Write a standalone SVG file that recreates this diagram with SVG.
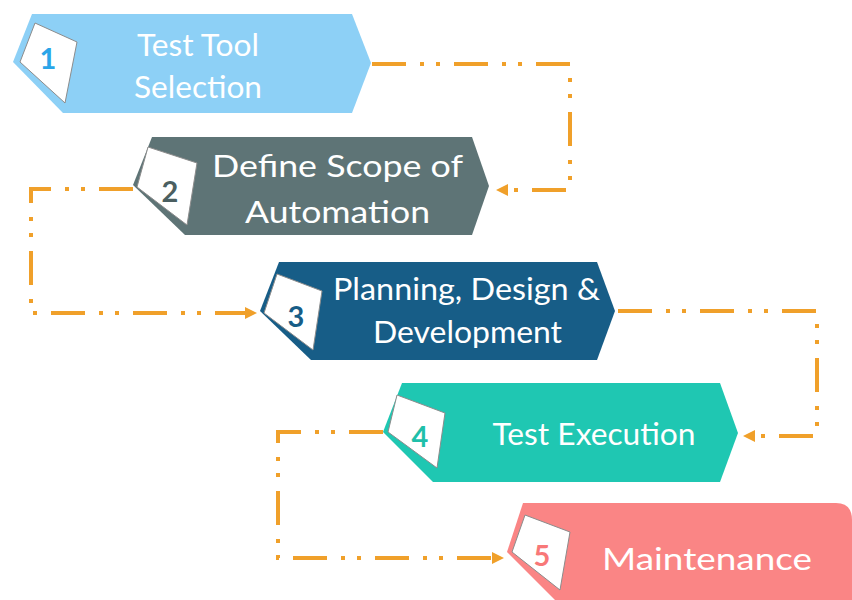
<svg xmlns="http://www.w3.org/2000/svg" width="852" height="600" viewBox="0 0 852 600">
<style>
  .lbl { font-family: Lato, "Open Sans", sans-serif; font-size: 31px; fill: #ffffff; text-anchor: middle; }
  .num { font-family: Lato, "Open Sans", sans-serif; font-size: 29px; font-weight: bold; text-anchor: middle; }
  .card { fill: #ffffff; stroke: #8c8c8c; stroke-width: 1; }
  .conn { fill: none; stroke: #f0a02a; stroke-width: 4; stroke-dasharray: 34 14 4 12 4 14; }
  .arrow { fill: #f0a02a; }
</style>
<rect width="852" height="600" fill="#ffffff"/>

<g id="connectors">
  <path class="conn" d="M372,64 H570 V190 H507"/>
  <polygon class="arrow" points="496,190 508,184 508,196"/>
  <path class="conn" d="M133,189 H31 V313 H245"/>
  <polygon class="arrow" points="257,313 245,307 245,319"/>
  <path class="conn" d="M618,311 H817 V436 H754"/>
  <polygon class="arrow" points="743,436 755,430 755,442"/>
  <path class="conn" d="M383,432 H278 V558 H492"/>
  <polygon class="arrow" points="504,558 492,552 492,564"/>
</g>

<g id="node1">
  <polygon points="32,14 352,14 371,63 352,113 63,113 13,62" fill="#8dd0f6"/>
  <polygon class="card" points="35,23 77,42 65,103 20,62"/>
  <text class="num" x="48" y="69" fill="#2aa5e8">1</text>
  <text class="lbl" x="198" y="56" textLength="122" lengthAdjust="spacingAndGlyphs">Test Tool</text>
  <text class="lbl" x="198" y="98" textLength="128" lengthAdjust="spacingAndGlyphs">Selection</text>
</g>

<g id="node2">
  <polygon points="152,137 472,137 489,186 472,235 185,235 133,185" fill="#5e7476"/>
  <polygon class="card" points="148,147 197,163 187,225 137,187"/>
  <text class="num" x="170" y="202" fill="#4b5f61">2</text>
  <text class="lbl" x="337.5" y="177" textLength="251" lengthAdjust="spacingAndGlyphs">Define Scope of</text>
  <text class="lbl" x="337.5" y="223" textLength="185" lengthAdjust="spacingAndGlyphs">Automation</text>
</g>

<g id="node3">
  <polygon points="279,262 597,262 615,311 597,360 311,360 260,311" fill="#175d87"/>
  <polygon class="card" points="277,274 322,291 313,350 264,313"/>
  <text class="num" x="296" y="327" fill="#175d87">3</text>
  <text class="lbl" x="466.5" y="300" textLength="267" lengthAdjust="spacingAndGlyphs">Planning, Design &amp;</text>
  <text class="lbl" x="467.5" y="343" textLength="189" lengthAdjust="spacingAndGlyphs">Development</text>
</g>

<g id="node4">
  <polygon points="402,383 720,383 738,433 720,482 433,482 383,432" fill="#1fc7b2"/>
  <polygon class="card" points="397,395 445,413 437,468 388,432"/>
  <text class="num" x="420" y="447" fill="#1fbfaa">4</text>
  <text class="lbl" x="594" y="445" textLength="203" lengthAdjust="spacingAndGlyphs">Test Execution</text>
</g>

<g id="node5">
  <path d="M523,503 H836 Q852,503 852,520 V600 H555 L507,552 Z" fill="#fa8585"/>
  <polygon class="card" points="525,515 570,532 560,590 512,552"/>
  <text class="num" x="542" y="566" fill="#f87878">5</text>
  <text class="lbl" x="707" y="570" textLength="210" lengthAdjust="spacingAndGlyphs">Maintenance</text>
</g>
</svg>
